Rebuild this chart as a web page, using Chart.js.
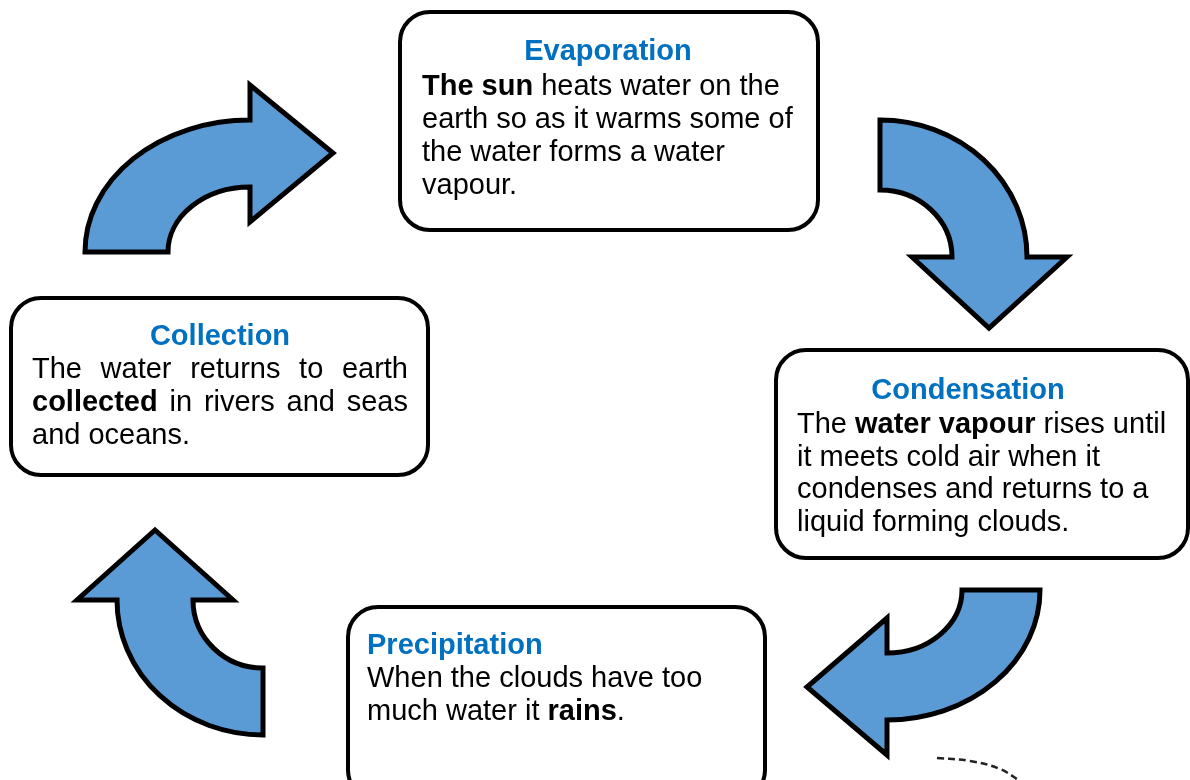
<!DOCTYPE html>
<html lang="en">
<head>
<meta charset="utf-8">
<title>The water cycle</title>
<script src="https://cdn.jsdelivr.net/npm/chart.js@4.4.1/dist/chart.umd.min.js"></script>
<style>
    html, body { margin: 0; padding: 0; background: #ffffff; }
    #quadro { position: relative; width: 1190px; height: 780px; }
</style>
</head>
<body>
<div id="quadro"><canvas id="ciclo"></canvas></div>
<script>
// Stage titles and texts (**...** marks bold words)
const ETAPAS = ['Evaporation', 'Condensation', 'Precipitation', 'Collection'];
const TEXTOS = [
    ['**The sun** heats water on the', 'earth so as it warms some of', 'the water forms a water', 'vapour.'],
    ['The **water vapour** rises until', 'it meets cold air when it', 'condenses and returns to a', 'liquid forming clouds.'],
    ['When the clouds have too', 'much water it **rains**.'],
    ['The water returns to earth', '**collected** in rivers and seas', 'and oceans.'],
];

// Boxes in diagram units: [left, top, right, bottom]
const CAIXAS = [
    [400, 12, 818, 230],
    [776, 350, 1188, 558],
    [348, 607, 765, 800],
    [11, 298, 428, 475],
];
const TITULO_X = [608, 968, 367, 220];
const TITULO_Y = [60, 399, 654, 345];
const TITULO_ALINHA = ['center', 'center', 'left', 'center'];
const TEXTO_X = [422, 797, 367, 32];
const TEXTO_Y = [95, 433, 687, 378];
const TEXTO_PASSO = [33, 32.5, 33, 33];
const TEXTO_DIREITA = [null, null, null, 408]; // justified box

// Curved arrows: centre, outer and inner radii, sweep (degrees) and head
const SETA_CENTRO = [[250, 252], [880, 257], [887, 590], [263, 600]];
const SETA_EXTERNO = [[165, 132], [147, 137], [153, 130], [146, 135]];
const SETA_INTERNO = [[82, 65], [72, 67], [75, 63], [70, 68]];
const SETA_ANGULOS = [[180, 270], [-90, 0], [0, 90], [90, 180]];
const SETA_PONTA = [
    [[250, 85], [333, 153], [250, 222]],
    [[1067, 257], [989, 328], [912, 257]],
    [[887, 755], [807, 687], [887, 618]],
    [[77, 600], [155, 530], [233, 600]],
];

// Small dashed stroke in the bottom right corner
const TRACO_X = [937, 970, 1000, 1020];
const TRACO_Y = [758, 761, 769, 781];

const AZUL_SETA = '#5b9bd5';
const AZUL_TITULO = '#0070c0';
const FONTE = '"Liberation Sans", Arial, sans-serif';
const TAM_FONTE = 29;

function px(escala, v) {
    return escala.getPixelForValue(v);
}

function partes(linha) {
    return linha.split('**').map((t, i) => ({ texto: t, negrito: i % 2 === 1 })).filter((p) => p.texto);
}

function fonte(negrito) {
    return `${negrito ? '700 ' : ''}${TAM_FONTE}px ${FONTE}`;
}

function desenharLinha(ctx, linha, x, y, direita) {
    const runs = partes(linha);
    if (direita === null) {
        let cx = x;
        for (const r of runs) {
            ctx.font = fonte(r.negrito);
            ctx.fillText(r.texto, cx, y);
            cx += ctx.measureText(r.texto).width;
        }
        return;
    }
    // justified: spread the words over the full width
    const palavras = [];
    for (const r of runs) {
        r.texto.split(' ').filter((w) => w).forEach((w) => palavras.push({ texto: w, negrito: r.negrito }));
    }
    let soma = 0;
    for (const p of palavras) {
        ctx.font = fonte(p.negrito);
        p.largura = ctx.measureText(p.texto).width;
        soma += p.largura;
    }
    const vao = (direita - x - soma) / Math.max(1, palavras.length - 1);
    let cx = x;
    for (const p of palavras) {
        ctx.font = fonte(p.negrito);
        ctx.fillText(p.texto, cx, y);
        cx += p.largura + vao;
    }
}

const pluginDiagrama = {
    id: 'diagrama',
    beforeDatasetsDraw(chart) {
        const ctx = chart.ctx;
        const sx = chart.scales.x;
        const sy = chart.scales.y;
        const rad = Math.PI / 180;

        ctx.save();
        // arrows
        SETA_CENTRO.forEach((c, i) => {
            const cx = px(sx, c[0]);
            const cy = px(sy, c[1]);
            const [a0, a1] = SETA_ANGULOS[i];
            const ext = SETA_EXTERNO[i];
            const int = SETA_INTERNO[i];
            ctx.beginPath();
            ctx.ellipse(cx, cy, px(sx, c[0] + ext[0]) - cx, Math.abs(px(sy, c[1] + ext[1]) - cy), 0, a0 * rad, a1 * rad, false);
            for (const p of SETA_PONTA[i]) {
                ctx.lineTo(px(sx, p[0]), px(sy, p[1]));
            }
            ctx.ellipse(cx, cy, px(sx, c[0] + int[0]) - cx, Math.abs(px(sy, c[1] + int[1]) - cy), 0, a1 * rad, a0 * rad, true);
            ctx.closePath();
            ctx.fillStyle = AZUL_SETA;
            ctx.fill();
            ctx.lineWidth = 5;
            ctx.lineJoin = 'miter';
            ctx.strokeStyle = '#000000';
            ctx.stroke();
        });

        // boxes and texts
        CAIXAS.forEach((b, i) => {
            const x0 = px(sx, b[0]);
            const y0 = px(sy, b[1]);
            const x1 = px(sx, b[2]);
            const y1 = px(sy, b[3]);
            ctx.beginPath();
            ctx.roundRect(x0, y0, x1 - x0, y1 - y0, 30);
            ctx.fillStyle = '#ffffff';
            ctx.fill();
            ctx.lineWidth = 4;
            ctx.strokeStyle = '#000000';
            ctx.stroke();

            ctx.textBaseline = 'alphabetic';
            ctx.fillStyle = AZUL_TITULO;
            ctx.font = fonte(true);
            ctx.textAlign = TITULO_ALINHA[i];
            ctx.fillText(ETAPAS[i], px(sx, TITULO_X[i]), px(sy, TITULO_Y[i]));

            ctx.textAlign = 'left';
            ctx.fillStyle = '#000000';
            const direita = TEXTO_DIREITA[i];
            TEXTOS[i].forEach((linha, j) => {
                const ultima = j === TEXTOS[i].length - 1;
                desenharLinha(ctx, linha, px(sx, TEXTO_X[i]), px(sy, TEXTO_Y[i] + j * TEXTO_PASSO[i]),
                    direita !== null && !ultima ? px(sx, direita) : null);
            });
        });
        ctx.restore();
    },
};

new Chart(document.getElementById('ciclo'), {
    type: 'scatter',
    data: {
        datasets: [{
            data: TRACO_X.map((x, i) => ({ x, y: TRACO_Y[i] })),
            showLine: true,
            borderColor: '#222222',
            borderWidth: 2.5,
            borderDash: [7, 4],
            tension: 0.4,
            pointRadius: 0,
        }],
    },
    options: {
        responsive: true,
        maintainAspectRatio: false,
        animation: false,
        events: [],
        layout: { padding: 0 },
        plugins: { legend: { display: false }, tooltip: { enabled: false } },
        scales: {
            x: { type: 'linear', min: 0, max: 1190, display: false },
            y: { type: 'linear', min: 0, max: 780, reverse: true, display: false },
        },
    },
    plugins: [pluginDiagrama],
});
</script>
</body>
</html>
